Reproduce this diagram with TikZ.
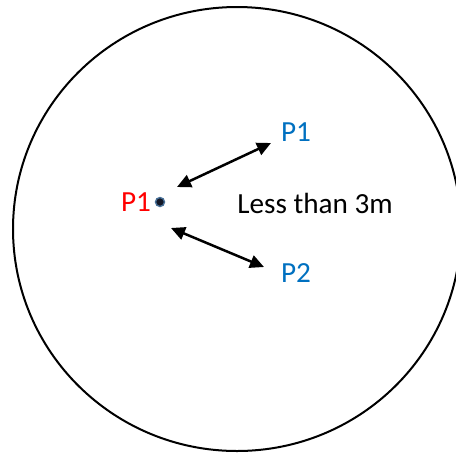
\documentclass[tikz,border=0pt]{standalone}
\usepackage{fontspec}
\setmainfont{Carlito}
\usetikzlibrary{arrows.meta, positioning}
\definecolor{zonered}{RGB}{255,0,0}
\definecolor{zoneblue}{RGB}{0,112,192}
\definecolor{zonering}{RGB}{70,110,150}
\definecolor{zonedot}{RGB}{20,25,40}

\begin{document}
\begin{tikzpicture}[x=0.5pt, y=-0.5pt, font=\fontsize{14.6}{17}\selectfont,
  lbl/.style={inner sep=0pt, anchor=center},
  link/.style={{Triangle[length=7pt, width=6.5pt]}-{Triangle[length=7pt, width=6.5pt]}, line width=1.25pt},
  pt/.style={circle, draw=zonering, fill=zonedot, line width=0.7pt, minimum size=4.5pt, inner sep=0pt}]
  \useasboundingbox (0,0) rectangle (456,452);
  \clip (0,0) rectangle (456,452);
  \draw[line width=1pt] (237,229) ellipse [x radius=224, y radius=222];
  \node[pt] (dot) at (160,202) {};
  \node[lbl, text=zonered] (src) at (136,202) {P1};
  \node[lbl, text=zoneblue] (nbA) at (296,132) {P1};
  \node[lbl, text=zoneblue] (nbB) at (296,273) {P2};
  \node[lbl] (dist) at (315,203) {Less than 3m};
  \coordinate (a1) at (177,187);
  \coordinate (a2) at (271,143);
  \coordinate (b1) at (171,228);
  \coordinate (b2) at (264,267);
  \draw[link] (a1) -- (a2);
  \draw[link] (b1) -- (b2);
\end{tikzpicture}
\end{document}
